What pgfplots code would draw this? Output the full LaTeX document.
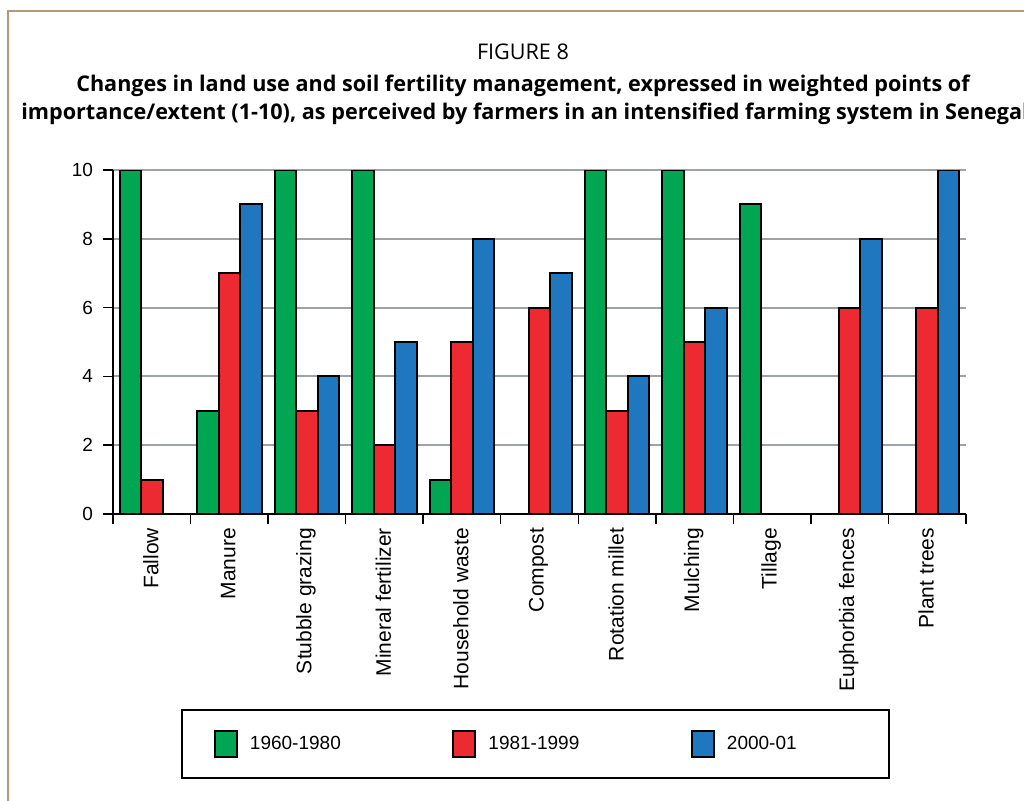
\documentclass[border=0pt]{standalone}
\usepackage{pgfplots}
\pgfplotsset{compat=1.18}
\usepackage{fontspec}
\setmainfont{Liberation Sans}
\newfontfamily\titlefont{Open Sans}
\definecolor{cgreen}{HTML}{00A651}
\definecolor{cred}{HTML}{ED2A32}
\definecolor{cblue}{HTML}{1F77C0}
\definecolor{framecol}{HTML}{B8967A}
\definecolor{gridgray}{HTML}{9EA3A8}
\begin{document}
\begin{tikzpicture}
\useasboundingbox (0,0) rectangle (512pt,400pt);
\clip (0,0) rectangle (512pt,400pt);
\begin{scope}[x=0.5pt,y=0.5pt]
% 1 unit = 1 px of the reference, y counted from the bottom
\draw[framecol, line width=1.2pt] (8,-20) -- (8,789) -- (1100,789);
\node[font=\titlefont\fontsize{10.8}{13}\selectfont] at (523,748) {FIGURE 8};
\node[font=\titlefont\bfseries\fontsize{10.8}{13}\selectfont] at (523,714)
  {Changes in land use and soil fertility management, expressed in weighted points of};
\node[font=\titlefont\bfseries\fontsize{10.8}{13}\selectfont] at (525,686)
  {importance/extent (1-10), as perceived by farmers in an intensified farming system in Senegal};
\end{scope}
\begin{axis}[
  scale only axis,
  width=426.5pt, height=172pt,
  at={(56.5pt,143pt)}, anchor=south west,
  xmin=-0.5, xmax=10.5, ymin=0, ymax=10,
  ybar=0pt, bar width=10.75pt,
  axis x line*=bottom, axis y line*=left,
  axis line style={black, line width=0.75pt},
  ytick={0,2,...,10},
  ymajorgrids, grid style={gridgray, line width=1pt},
  xtick={0,...,10},
  xticklabels={Fallow, Manure, Stubble grazing, Mineral fertilizer, Household waste,
    Compost, Rotation millet, Mulching, Tillage, Euphorbia fences, Plant trees},
  minor xtick={-0.5,0.5,...,10.5},
  major x tick style={draw=none},
  tick align=outside,
  major tick length=5pt, minor tick length=5pt,
  tick style={black, line width=0.75pt},
  /pgf/number format/assume math mode=true,
  y tick label style={font=\fontsize{9.5}{11}\selectfont, xshift=-1.5pt},
  x tick label style={font=\fontsize{10.5}{12}\selectfont, rotate=90, anchor=east, xshift=1.5pt, yshift=0.5pt},
  legend columns=3,
  legend style={at={(axis description cs:0.4953,-0.6686)}, anchor=center,
    draw=black, line width=0.75pt, inner xsep=16pt, inner ysep=10pt,
    font=\fontsize{9.5}{11}\selectfont,
    nodes={inner sep=0pt},
    /tikz/every odd column/.append style={column sep=6pt}},
  legend image code/.code={\draw[#1, draw=black, line width=1pt] (0pt,-6.5pt) rectangle (11pt,6.5pt);},
  every axis plot/.append style={draw=black, line width=1pt},
]
\addplot[fill=cgreen] coordinates {(0,10) (1,3) (2,10) (3,10) (4,1) (6,10) (7,10) (8,9)};
\addlegendentry{\makebox[101.25pt][l]{1960-1980}}
\addplot[fill=cred] coordinates {(0,1) (1,7) (2,3) (3,2) (4,5) (5,6) (6,3) (7,5) (9,6) (10,6)};
\addlegendentry{\makebox[101.25pt][l]{1981-1999}}
\addplot[fill=cblue] coordinates {(1,9) (2,4) (3,5) (4,8) (5,7) (6,4) (7,6) (9,8) (10,10)};
\addlegendentry{\makebox[65pt][l]{2000-01}}
\end{axis}
\end{tikzpicture}
\end{document}
